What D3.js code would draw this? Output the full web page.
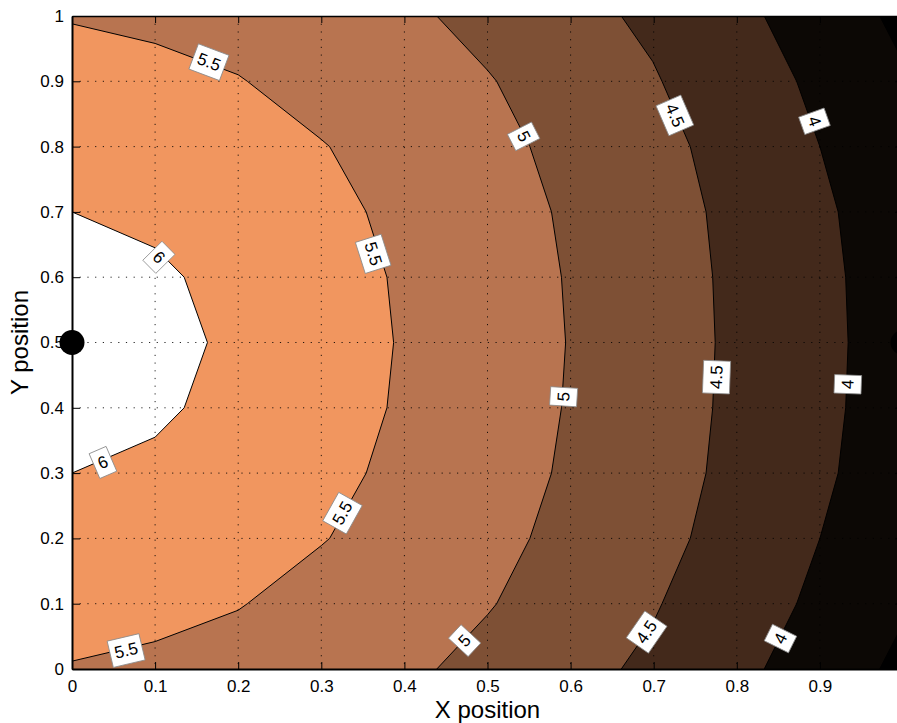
<!DOCTYPE html>
<html>
<head>
<meta charset="utf-8">
<title>Contour map</title>
<style>
  body { margin: 0; background: #fff; }
  svg { display: block; }
  text { font-family: "Liberation Sans", Arial, Helvetica, sans-serif; fill: #000; }
</style>
<script src="https://d3js.org/d3.v7.min.js"></script>
</head>
<body>
<svg id="chart" width="897" height="723"></svg>
<script>
// contour levels, lowest first
const levels = [3.5, 4, 4.5, 5, 5.5, 6];
// fill below the first level, then above each level (copper map, top band left white)
const bandColors = ["#000000", "#0c0805", "#43291b", "#7e5035", "#b87450", "#f1965f", "#ffffff"];

// contour polylines [x, y]
const line35 = [[0.972, 1], [0.993, 0.948], [1, 0.93], [1, 0.07], [0.993, 0.052], [0.972, 0]];
const line4 = [[0.833, 1], [0.872, 0.9], [0.9, 0.8], [0.922, 0.7], [0.931, 0.6], [0.934, 0.5],
               [0.931, 0.4], [0.922, 0.3], [0.9, 0.2], [0.872, 0.1], [0.833, 0]];
const line45 = [[0.661, 1], [0.699, 0.93], [0.71, 0.9], [0.744, 0.8], [0.763, 0.7], [0.771, 0.6], [0.774, 0.5],
                [0.771, 0.4], [0.763, 0.3], [0.744, 0.2], [0.71, 0.1], [0.699, 0.07], [0.661, 0]];
const line5 = [[0.439, 1], [0.5, 0.917], [0.511, 0.9], [0.551, 0.8], [0.577, 0.7], [0.589, 0.6], [0.594, 0.5],
               [0.589, 0.4], [0.577, 0.3], [0.551, 0.2], [0.511, 0.1], [0.5, 0.083], [0.439, 0]];
const line55 = [[0, 0.988], [0.1, 0.958], [0.2, 0.91], [0.211, 0.9], [0.3, 0.811], [0.31, 0.8], [0.354, 0.7],
                [0.379, 0.6], [0.387, 0.5], [0.379, 0.4], [0.354, 0.3], [0.31, 0.2], [0.3, 0.189],
                [0.211, 0.1], [0.2, 0.09], [0.1, 0.042], [0, 0.012]];
const line6 = [[0, 0.70], [0.1, 0.645], [0.135, 0.6], [0.163, 0.5], [0.135, 0.4], [0.1, 0.355], [0, 0.30]];
const contourLines = [line35, line4, line45, line5, line55, line6];

// inline labels: [level, x, y]
const labelSpots = [
  [6, 0.105, 0.631], [6, 0.037, 0.317],
  [5.5, 0.165, 0.930], [5.5, 0.363, 0.636], [5.5, 0.325, 0.239], [5.5, 0.065, 0.029],
  [5, 0.544, 0.816], [5, 0.591, 0.417], [5, 0.472, 0.044],
  [4.5, 0.726, 0.848], [4.5, 0.775, 0.447], [4.5, 0.691, 0.057],
  [4, 0.894, 0.839], [4, 0.933, 0.436], [4, 0.852, 0.047]
];

// source points
const sourcePoints = [[0, 0.5], [1, 0.5]];

const tickValues = [0, 0.1, 0.2, 0.3, 0.4, 0.5, 0.6, 0.7, 0.8, 0.9, 1];
const tickLabels = ["0", "0.1", "0.2", "0.3", "0.4", "0.5", "0.6", "0.7", "0.8", "0.9", "1"];

const W = 897, padL = 72, padT = 16, plotW = 831, plotH = 653;
const svg = d3.select("#chart");
const x = d3.scaleLinear().domain([0, 1]).range([padL, padL + plotW]);
const y = d3.scaleLinear().domain([0, 1]).range([padT + plotH, padT]);

svg.append("clipPath").attr("id", "plotClip")
  .append("rect").attr("x", padL).attr("y", padT).attr("width", plotW).attr("height", plotH);

const plot = svg.append("g").attr("clip-path", "url(#plotClip)");

// lowest band
plot.append("rect")
  .attr("x", padL).attr("y", padT).attr("width", plotW).attr("height", plotH)
  .attr("fill", bandColors[0]);

// each level fills the area on its left (higher values)
const line = d3.line().x(d => x(d[0])).y(d => y(d[1]));
contourLines.forEach((pts, i) => {
  const first = pts[0], last = pts[pts.length - 1];
  const poly = pts.concat([[0, last[1]], [0, first[1]]]);
  plot.append("path")
    .attr("d", line(poly) + "Z")
    .attr("fill", bandColors[i + 1]);
});

// dotted grid
const grid = plot.append("g")
  .attr("stroke", "#000")
  .attr("stroke-opacity", 0.85)
  .attr("stroke-width", 1)
  .attr("stroke-dasharray", "1.2,6.5");
grid.selectAll(".gx").data(tickValues.slice(1, -1)).enter().append("line")
  .attr("x1", d => x(d)).attr("x2", d => x(d))
  .attr("y1", padT).attr("y2", padT + plotH);
grid.selectAll(".gy").data(tickValues.slice(1, -1)).enter().append("line")
  .attr("y1", d => y(d)).attr("y2", d => y(d))
  .attr("x1", padL).attr("x2", padL + plotW);

// contour lines
contourLines.forEach(pts => {
  plot.append("path")
    .attr("d", line(pts))
    .attr("fill", "none")
    .attr("stroke", "#000")
    .attr("stroke-width", 1);
});

// labels, turned along the nearest segment
function segmentAngle(pts, px, py) {
  let best = null, bestD = Infinity;
  for (let k = 0; k < pts.length - 1; k++) {
    const ax = x(pts[k][0]), ay = y(pts[k][1]);
    const bx = x(pts[k + 1][0]), by = y(pts[k + 1][1]);
    const dx = bx - ax, dy = by - ay;
    const len2 = dx * dx + dy * dy || 1;
    let t = ((px - ax) * dx + (py - ay) * dy) / len2;
    t = Math.max(0, Math.min(1, t));
    const cx = ax + t * dx, cy = ay + t * dy;
    const d = (px - cx) ** 2 + (py - cy) ** 2;
    if (d < bestD) { bestD = d; best = Math.atan2(dy, dx) * 180 / Math.PI; }
  }
  if (best > 88) best -= 180;
  if (best < -92) best += 180;
  return best;
}

const labelG = plot.append("g");
labelSpots.forEach(([lev, lx, ly]) => {
  const pts = contourLines[levels.indexOf(lev)];
  const px = x(lx), py = y(ly);
  const ang = segmentAngle(pts, px, py);
  const g = labelG.append("g").attr("transform", `translate(${px},${py}) rotate(${ang})`);
  const txt = g.append("text")
    .attr("text-anchor", "middle")
    .attr("dy", "0.36em")
    .style("font-size", "17px")
    .text(String(lev));
  const w = txt.node().getComputedTextLength() + 9;
  g.insert("rect", "text")
    .attr("x", -w / 2).attr("y", -13)
    .attr("width", w).attr("height", 27)
    .attr("fill", "#fff")
    .attr("stroke", "#8a8a8a")
    .attr("stroke-width", 0.8);
});

// source markers
svg.append("g").selectAll("circle").data(sourcePoints).enter().append("circle")
  .attr("cx", d => x(d[0])).attr("cy", d => y(d[1]))
  .attr("r", 12.5).attr("fill", "#000");

// axes with inward ticks; labels past the page edge are dropped
const fmt = (d, i) => tickLabels[i];
const fmtX = (d, i) => (x(d) + 5 < W ? tickLabels[i] : "");
const axisB = svg.append("g").attr("transform", `translate(0,${padT + plotH})`)
  .call(d3.axisBottom(x).tickValues(tickValues).tickFormat(fmtX).tickSize(-7).tickSizeOuter(0).tickPadding(11));
const axisL = svg.append("g").attr("transform", `translate(${padL},0)`)
  .call(d3.axisLeft(y).tickValues(tickValues).tickFormat(fmt).tickSize(-8).tickSizeOuter(0).tickPadding(8));
const axisT = svg.append("g").attr("transform", `translate(0,${padT})`)
  .call(d3.axisTop(x).tickValues(tickValues).tickFormat("").tickSize(-7).tickSizeOuter(0));
const axisR = svg.append("g").attr("transform", `translate(${padL + plotW},0)`)
  .call(d3.axisRight(y).tickValues(tickValues).tickFormat("").tickSize(-8).tickSizeOuter(0));

[axisB, axisL, axisT, axisR].forEach(a => {
  a.selectAll("text").style("font-size", "17px").attr("font-family", null);
  a.selectAll(".tick line").attr("stroke", "#000").attr("stroke-width", 1);
  a.select(".domain").attr("stroke", "#000").attr("stroke-width", 1.6);
});
axisB.select(".domain").attr("stroke-width", 2);
axisL.select(".domain").attr("stroke-width", 2);

// axis titles
svg.append("text")
  .attr("x", padL + plotW / 2).attr("y", 718)
  .attr("text-anchor", "middle")
  .style("font-size", "24px")
  .text("X position");
svg.append("text")
  .attr("transform", `translate(28,${padT + plotH / 2}) rotate(-90)`)
  .attr("text-anchor", "middle")
  .style("font-size", "24px")
  .text("Y position");
</script>
</body>
</html>
